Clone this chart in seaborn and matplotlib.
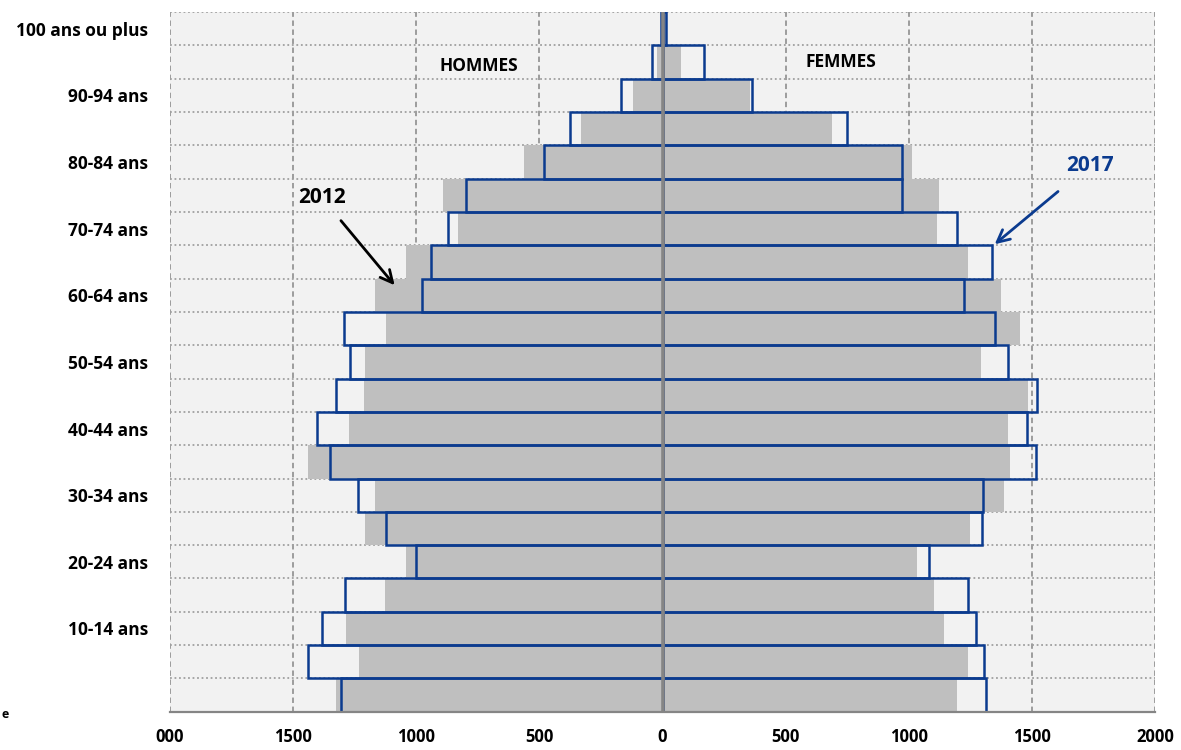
import numpy as np
import pandas as pd
import matplotlib.pyplot as plt
import seaborn as sns

# tranches d'age, du bas vers le haut
ages = ["0-4 ans", "5-9 ans", "10-14 ans", "15-19 ans", "20-24 ans", "25-29 ans",
        "30-34 ans", "35-39 ans", "40-44 ans", "45-49 ans", "50-54 ans", "55-59 ans",
        "60-64 ans", "65-69 ans", "70-74 ans", "75-79 ans", "80-84 ans", "85-89 ans",
        "90-94 ans", "95-99 ans", "100 ans ou plus"]

# effectifs
hommes_2012 = [1328, 1231, 1284, 1126, 1041, 1207, 1167, 1439, 1272, 1212, 1209,
               1124, 1169, 1043, 830, 892, 563, 333, 120, 24, 5]
hommes_2017 = [1304, 1438, 1385, 1289, 1003, 1122, 1235, 1349, 1403, 1328, 1270,
               1293, 977, 942, 872, 797, 480, 377, 169, 43, 8]
femmes_2012 = [1197, 1239, 1145, 1102, 1033, 1249, 1387, 1411, 1403, 1484, 1293,
               1451, 1374, 1241, 1113, 1124, 1012, 689, 357, 76, 14]
femmes_2017 = [1314, 1306, 1272, 1240, 1081, 1299, 1303, 1518, 1479, 1519, 1402,
               1352, 1224, 1337, 1194, 974, 971, 748, 365, 168, 16]

# libelles affiches sur l'axe vertical (un sur deux)
labels_visibles = ["10-14 ans", "20-24 ans", "30-34 ans", "40-44 ans", "50-54 ans",
                   "60-64 ans", "70-74 ans", "80-84 ans", "90-94 ans", "100 ans ou plus"]
x_ticks = [-2000, -1500, -1000, -500, 0, 500, 1000, 1500, 2000]
x_labels = ["000", "1500", "1000", "500", "0", "500", "1000", "1500", "2000"]

GRIS = "#bfbfbf"
BLEU = "#0b3b8f"
FOND = "#f2f2f2"

sns.set_theme(style="white")
plt.rcParams["font.family"] = ["Open Sans", "DejaVu Sans"]
plt.rcParams["text.color"] = "black"

df = pd.DataFrame({
    "age": ages,
    "h2012": [-v for v in hommes_2012],
    "h2017": [-v for v in hommes_2017],
    "f2012": femmes_2012,
    "f2017": femmes_2017,
})
order = ages[::-1]

fig, ax = plt.subplots(figsize=(11.81, 7.5), dpi=100)
fig.subplots_adjust(left=0.144, right=0.978, top=0.984, bottom=0.051)
ax.set_facecolor(FOND)

# 2012 : barres grises pleines
for col in ["h2012", "f2012"]:
    sns.barplot(data=df, x=col, y="age", order=order, orient="h", color=GRIS,
                saturation=1, width=1, linewidth=0, errorbar=None, ax=ax)
# 2017 : contours bleus
for col in ["h2017", "f2017"]:
    sns.barplot(data=df, x=col, y="age", order=order, orient="h", color=BLEU,
                saturation=1, width=1, fill=False, linewidth=1.8, errorbar=None, ax=ax)

ax.axvline(0, color="#858585", lw=2.6, zorder=6)

ax.set_xlim(-2000, 2000)
ax.set_ylim(len(ages) - 0.5, -0.5)
ax.set_xticks(x_ticks)
ax.set_xticklabels(x_labels, fontsize=12, fontweight="bold")
ax.set_yticks(range(len(order)))
ax.set_yticklabels([a if a in labels_visibles else "" for a in order],
                   fontsize=12.5, fontweight="bold")
ax.set_yticks(np.arange(-0.5, len(order), 1), minor=True)
ax.set_xlabel("")
ax.set_ylabel("")

ax.set_axisbelow(True)
ax.grid(axis="x", which="major", linestyle=(0, (3, 2)), color="#969696", lw=1.3)
ax.grid(axis="y", which="minor", linestyle=(0, (1, 1.5)), color="#a0a0a0", lw=1.3)
ax.grid(axis="y", which="major", visible=False)

for s in ["left", "top", "right"]:
    ax.spines[s].set_visible(False)
ax.spines["bottom"].set_color("#858585")
ax.spines["bottom"].set_linewidth(1.6)
ax.tick_params(axis="x", which="major", length=6, width=1.4, color="#858585",
               labelcolor="black", pad=6)
ax.tick_params(axis="y", which="both", length=0, pad=16, labelcolor="black")

ax.text(-745, 1.13, "HOMMES", ha="center", va="center", fontsize=12.5, fontweight="bold")
ax.text(725, 1.0, "FEMMES", ha="center", va="center", fontsize=12.5, fontweight="bold")

ax.annotate("2012", xy=(-1088, 7.7), xytext=(-1385, 5.06), ha="center", va="center",
            fontsize=15, fontweight="bold", color="black",
            arrowprops=dict(arrowstyle="->", color="black", lw=2,
                            shrinkA=9, shrinkB=0, mutation_scale=22))
ax.annotate("2017", xy=(1349, 6.47), xytext=(1734, 4.1), ha="center", va="center",
            fontsize=15, fontweight="bold", color=BLEU,
            arrowprops=dict(arrowstyle="->", color=BLEU, lw=2,
                            shrinkA=14, shrinkB=0, mutation_scale=22))

fig.text(0.001, 0.047, "e", ha="left", va="center", fontsize=9, fontweight="bold")

fig.savefig("out.png", dpi=100)
